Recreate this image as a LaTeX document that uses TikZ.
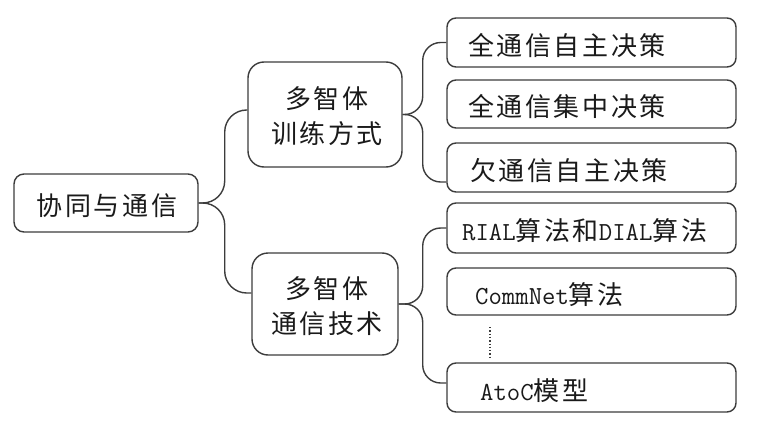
\documentclass[tikz,border=0pt]{standalone}
\usepackage{fontspec}
\newfontfamily\cjk[LetterSpace=10]{Noto Sans CJK SC}
\definecolor{linegray}{HTML}{3C3C3C}
\definecolor{txt}{HTML}{1A1A1A}
\newcommand{\latn}[1]{{\ttfamily\fontsize{26}{30}\selectfont #1}}
\tikzset{
  box/.style={draw=linegray, line width=1.4pt, fill=white, inner sep=0pt},
  rootbox/.style={box, rounded corners=10pt, minimum width=184pt, minimum height=58pt},
  midbox/.style={box, rounded corners=16pt},
  leafbox/.style={box, rounded corners=9pt, minimum width=289pt},
  cjktext/.style={text=txt, font=\cjk\fontsize{26}{35}\selectfont, inner sep=0pt},
  leaftext/.style={cjktext, anchor=west},
  conn/.style={draw=linegray, line width=1.4pt},
  dots/.style={draw=linegray, line width=1.3pt, dotted}
}
\begin{document}
\begin{tikzpicture}[x=1pt,y=-1pt]
\useasboundingbox (0,0) rectangle (764,423);
% root
\node[rootbox] (root) at (106,203) {};
\node[cjktext] (roott) at (107,206) {协同与通信};
% middle
\node[midbox, minimum width=154pt, minimum height=105pt] (mid1) at (325,114.5) {};
\node[cjktext, align=center] (mid1t) at (327,116) {多智体\\训练方式};
\node[midbox, minimum width=146pt, minimum height=102pt] (mid2) at (325,304) {};
\node[cjktext, align=center] (mid2t) at (327,306) {多智体\\通信技术};
% leaves
\node[leafbox, minimum height=49pt] (leaf1) at (591.5,42.5) {};
\node[leafbox, minimum height=48pt] (leaf2) at (591.5,104) {};
\node[leafbox, minimum height=49pt] (leaf3) at (591.5,167.5) {};
\node[leafbox, minimum height=50pt] (leaf4) at (591.5,228) {};
\node[leafbox, minimum height=47pt] (leaf5) at (591.5,291.5) {};
\node[leafbox, minimum height=49pt] (leaf6) at (591.5,387.5) {};
\node[leaftext] (l1t) at (468,46) {全通信自主决策};
\node[leaftext] (l2t) at (468,107) {全通信集中决策};
\node[leaftext] (l3t) at (470,171) {欠通信自主决策};
\node[leaftext] (l4t) at (462,231) {\latn{RIAL}算法和\latn{DIAL}算法};
\node[leaftext] (l5t) at (475,295) {\latn{CommNet}算法};
\node[leaftext] (l6t) at (480,391) {\latn{AtoC}模型};
% connectors
\draw[conn, rounded corners=22pt] (root.east) -- ++(26,0) |- ([yshift=4.5pt]mid1.west);
\draw[conn, rounded corners=22pt] (root.east) -- ++(26,0) |- ([yshift=11pt]mid2.west);
\draw[conn, rounded corners=18pt] (mid1.east) -- ++(20,0) |- (leaf1.west);
\draw[conn, rounded corners=18pt] (mid1.east) -- ++(20,0) |- ([yshift=-14.5pt]leaf3.west);
\draw[conn, rounded corners=18pt] (mid2.east) -- ++(24,0) |- (leaf4.west);
\draw[conn, rounded corners=18pt] (mid2.east) -- ++(24,0) |- ([yshift=4.5pt]leaf6.west);
% dots
\coordinate (d1) at (490,327);
\coordinate (d2) at (490,358);
\draw[dots] (d1) -- (d2);
\end{tikzpicture}
\end{document}
